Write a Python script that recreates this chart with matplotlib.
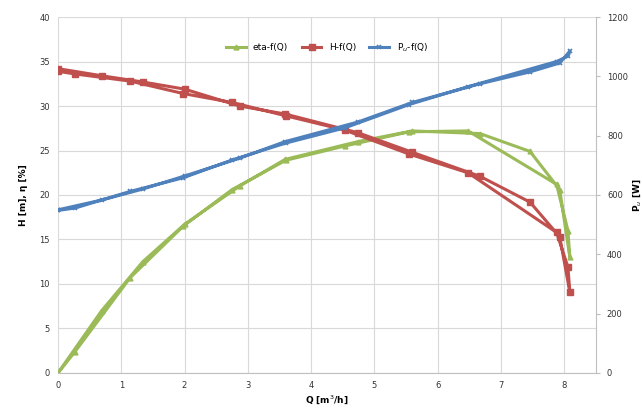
#Pump characteristic curves: H, eta and Pu vs Q
import numpy as np
import matplotlib
matplotlib.use("Agg")
import matplotlib.pyplot as plt

# measured flow (outgoing then return run)
Q = [0, 0.69, 1.34, 2.0, 2.87, 3.59, 4.74, 5.6, 6.67, 7.46, 7.93, 8.09,
     8.06, 7.88, 6.48, 5.55, 4.53, 3.6, 2.75, 1.98, 1.14, 0.27, 0]
H = [34.2, 33.4, 32.7, 31.9, 30.0, 29.1, 27.0, 24.8, 22.1, 19.2, 15.3, 9.1,
     11.9, 15.8, 22.5, 24.6, 27.3, 28.9, 30.4, 31.4, 32.8, 33.6, 33.9]
eta = [0, 7.0, 12.5, 16.7, 21.0, 24.0, 26.0, 27.2, 26.9, 24.9, 20.6, 13.0,
       16.0, 21.2, 27.2, 27.1, 25.5, 23.9, 20.6, 16.5, 10.7, 2.4, 0]
Pu = [550, 583, 620, 664, 724, 780, 846, 912, 975, 1015, 1045, 1085,
      1068, 1050, 965, 905, 826, 775, 718, 658, 612, 556, 548]

green = '#9bbb59'
red = '#c0504d'
blue = '#4f81bd'

fig = plt.figure(figsize=(6.42, 4.13), dpi=100)
ax = fig.add_axes([0.0903, 0.0969, 0.8377, 0.8619])
ax2 = ax.twinx()

l1, = ax.plot(Q, eta, color=green, lw=2.2, marker='^', ms=3.5, label='eta-f(Q)')
l2, = ax.plot(Q, H, color=red, lw=2.2, marker='s', ms=4, label='H-f(Q)')
l3, = ax2.plot(Q, Pu, color=blue, lw=2.2, marker='x', ms=3.5, mew=1.2,
               label='P$_u$-f(Q)')

ax.set_xlim(0, 8.5)
ax.set_ylim(0, 40)
ax2.set_ylim(0, 1200)
ax.set_xticks(range(0, 9))
ax.set_yticks(range(0, 41, 5))
ax2.set_yticks(range(0, 1201, 200))

ax.grid(True, color='#d9d9d9', lw=0.8)
ax.set_axisbelow(True)
for a in (ax, ax2):
    a.tick_params(labelsize=6, length=0, colors='#333333', pad=6)
    for s in a.spines.values():
        s.set_visible(False)
ax2.spines['right'].set_visible(True)
ax2.spines['right'].set_color('#bfbfbf')
ax.spines['bottom'].set_visible(True)
ax.spines['bottom'].set_color('#bfbfbf')
ax2.tick_params(axis='y', length=3, color='#bfbfbf', pad=5)

ax.set_xlabel('Q [m$^3$/h]', fontsize=6.5, fontweight='bold', labelpad=2)
ax.set_ylabel('H [m], η [%]', fontsize=6.5, fontweight='bold', labelpad=8)
ax2.set_ylabel('P$_u$ [W]', fontsize=6.5, fontweight='bold', labelpad=2)

ax.legend(handles=[l1, l2, l3], loc='upper center', bbox_to_anchor=(0.5, 0.955),
          ncol=3, frameon=False, fontsize=6.5, handlelength=2.2, columnspacing=1.5)

fig.savefig('out.png', dpi=100)
